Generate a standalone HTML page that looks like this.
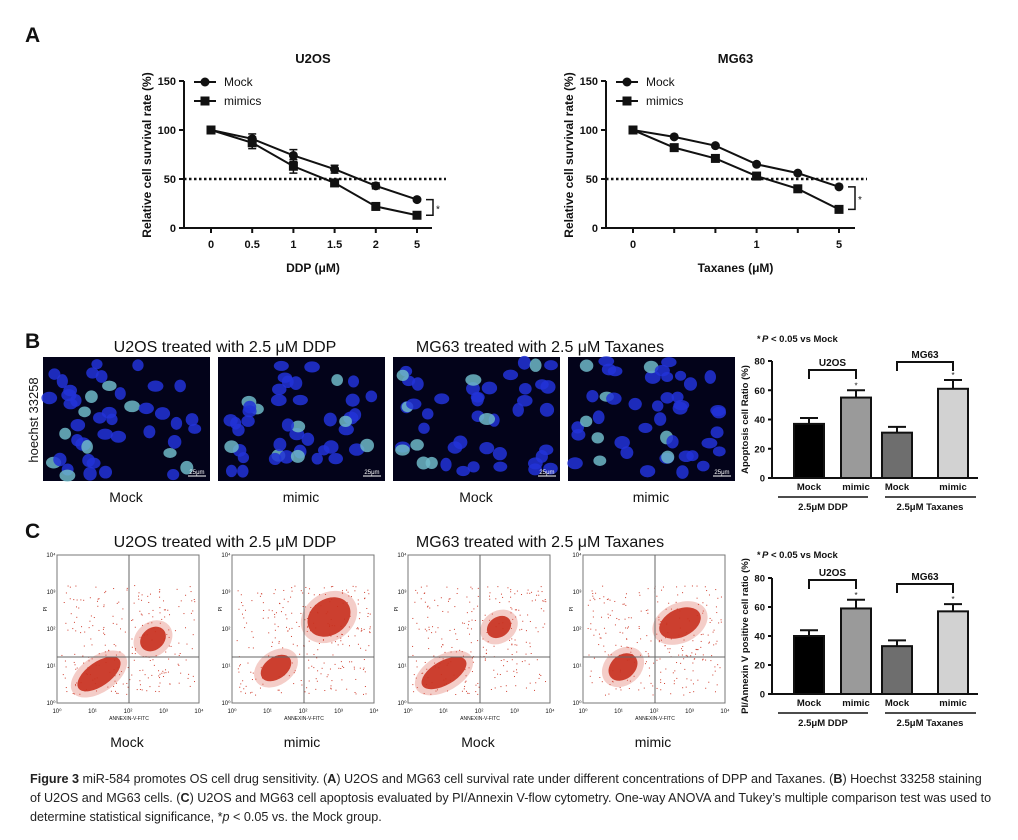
<!DOCTYPE html>
<html><head><meta charset="utf-8"><style>
body{margin:0;background:#fff;}
svg{display:block;font-family:"Liberation Sans",Arial,sans-serif;}
.cap{position:absolute;left:30px;top:770px;width:965px;font-family:"Liberation Sans",Arial,sans-serif;font-size:12.6px;line-height:19px;color:#222;}
</style></head><body>
<svg id="fig" width="1018" height="840" viewBox="0 0 1018 840"></svg>
<div class="cap"><b>Figure 3</b> miR-584 promotes OS cell drug sensitivity. (<b>A</b>) U2OS and MG63 cell survival rate under different concentrations of DPP and Taxanes. (<b>B</b>) Hoechst 33258 staining of U2OS and MG63 cells. (<b>C</b>) U2OS and MG63 cell apoptosis evaluated by PI/Annexin V-flow cytometry. One-way ANOVA and Tukey’s multiple comparison test was used to determine statistical significance, *<i>p</i> &lt; 0.05 vs. the Mock group.</div>
<script>
// ---- Panel A data ----
const u2osCats = ["0","0.5","1","1.5","2","5"];
const u2osMock = [100,91,74,60,43,29];
const u2osMockErr = [2,5,6,4,3,1];
const u2osMimic = [100,87,63,46,22,13];
const u2osMimicErr = [2,6,7,3,2,2];
const mg63Cats = ["0","","","1","","5"];
const mg63Mock = [100,93,84,65,56,42];
const mg63Mimic = [100,82,71,53,40,19];
const aTicks = [0,50,100,150];
// ---- Panel B/C data ----
const barCats = ["Mock","mimic","Mock","mimic"];
const apoptosis = [37,55,31,61];
const apoptosisErr = [4,5,4,6];
const annexin = [40,59,33,57];
const annexinErr = [4,6,4,5];
const barTicks = [0,20,40,60,80];

const NS="http://www.w3.org/2000/svg";
const svg=document.getElementById('fig');
function el(tag,attrs,parent,text){const e=document.createElementNS(NS,tag);for(const k in attrs)e.setAttribute(k,attrs[k]);if(text!==undefined)e.textContent=text;(parent||svg).appendChild(e);return e;}
function txt(x,y,s,size,opt,parent){opt=opt||{};const a={x:x,y:y,'font-size':size,fill:opt.fill||'#111','text-anchor':opt.anchor||'middle'};if(opt.bold)a['font-weight']='bold';if(opt.rot)a.transform='rotate(-90 '+x+' '+y+')';const t=el('text',a,parent,s);return t;}

[['A',25,42],['B',25,348],['C',25,538]].forEach(p=>{txt(p[1],p[2],p[0],21,{bold:true,anchor:'start',name:'panel-letter-'+p[0].toLowerCase()});});

function lineChart(cfg){
  const g=el('g',{});
  const y0=228,y1=81,ax=cfg.ax;
  const ys=v=>y0-(v/150)*(y0-y1);
  const xs=i=>cfg.x0+i*cfg.dx;
  el('line',{x1:ax,y1:y1,x2:ax,y2:y0,stroke:'#111','stroke-width':2},g);
  el('line',{x1:ax,y1:y0,x2:cfg.axEnd,y2:y0,stroke:'#111','stroke-width':2},g);
  aTicks.forEach(t=>{el('line',{x1:ax-5,y1:ys(t),x2:ax,y2:ys(t),stroke:'#111','stroke-width':2},g);txt(ax-8,ys(t)+4,String(t),11,{anchor:'end',bold:true,name:'y-tick-label'},g);});
  cfg.cats.forEach((c,i)=>{el('line',{x1:xs(i),y1:y0,x2:xs(i),y2:y0+5,stroke:'#111','stroke-width':2},g);if(c)txt(xs(i),y0+20,c,11,{bold:true,name:'x-tick-label'},g);});
  el('line',{x1:ax,y1:ys(50),x2:cfg.dotEnd,y2:ys(50),stroke:'#111','stroke-width':2.5,'stroke-dasharray':'2.5 2.5'},g);
  function series(vals,errs,shape,nm){
    const sg=el('g',{},g);
    el('polyline',{points:vals.map((v,i)=>xs(i)+','+ys(v)).join(' '),fill:'none',stroke:'#111','stroke-width':2},sg);
    vals.forEach((v,i)=>{
      if(errs){const e=errs[i];el('line',{x1:xs(i),y1:ys(v+e),x2:xs(i),y2:ys(v-e),stroke:'#111','stroke-width':1.5},sg);el('line',{x1:xs(i)-4,y1:ys(v+e),x2:xs(i)+4,y2:ys(v+e),stroke:'#111','stroke-width':1.5},sg);el('line',{x1:xs(i)-4,y1:ys(v-e),x2:xs(i)+4,y2:ys(v-e),stroke:'#111','stroke-width':1.5},sg);}
      let m;if(shape==='c')m=el('circle',{cx:xs(i),cy:ys(v),r:4.5,fill:'#111'},sg);else m=el('rect',{x:xs(i)-4.5,y:ys(v)-4.5,width:9,height:9,fill:'#111'},sg);
      
    });
  }
  series(cfg.mock,cfg.mockErr,'c','mock-series');
  series(cfg.mimic,cfg.mimicErr,'s','mimics-series');
  const bx=xs(5)+9,ya=ys(cfg.mock[5]),yb=ys(cfg.mimic[5]);
  el('polyline',{points:bx+','+ya+' '+(bx+7)+','+ya+' '+(bx+7)+','+yb+' '+bx+','+yb,fill:'none',stroke:'#111','stroke-width':1.5},g);
  txt(bx+12,(ya+yb)/2+5,'*',10,{name:'significance-star'},g);
  const lx=ax+10;
  el('line',{x1:lx,y1:82,x2:lx+22,y2:82,stroke:'#111','stroke-width':2},g);el('circle',{cx:lx+11,cy:82,r:4.5,fill:'#111'},g);
  txt(lx+30,86,'Mock',12,{anchor:'start',name:'legend-mock'},g);
  el('line',{x1:lx,y1:101,x2:lx+22,y2:101,stroke:'#111','stroke-width':2},g);el('rect',{x:lx+6.5,y:96.5,width:9,height:9,fill:'#111'},g);
  txt(lx+30,105,'mimics',12,{anchor:'start',name:'legend-mimics'},g);
  txt((ax+cfg.axEnd)/2+5,63,cfg.title,13,{bold:true,name:'chart-title'},g);
  txt((ax+cfg.axEnd)/2+5,272,cfg.xlabel,12,{bold:true,name:'x-axis-title'},g);
  txt(ax-33,155,'Relative cell survival rate (%)',12,{bold:true,rot:true,name:'y-axis-title'},g);
}
lineChart({name:'u2os-survival-chart',ax:184,axEnd:432,dotEnd:446,x0:211,dx:41.2,cats:u2osCats,mock:u2osMock,mockErr:u2osMockErr,mimic:u2osMimic,mimicErr:u2osMimicErr,title:'U2OS',xlabel:'DDP (μM)'});
lineChart({name:'mg63-survival-chart',ax:606,axEnd:855,dotEnd:867,x0:633,dx:41.2,cats:mg63Cats,mock:mg63Mock,mockErr:null,mimic:mg63Mimic,mimicErr:null,title:'MG63',xlabel:'Taxanes (μM)'});

// ---- micrographs ----
txt(225,352,'U2OS treated with 2.5 μM DDP',16,{name:'u2os-micrograph-title'});
txt(540,352,'MG63 treated with 2.5 μM Taxanes',16,{name:'mg63-micrograph-title'});
txt(38,420,'hoechst 33258',13,{rot:true,name:'stain-label'});
const microX=[43,218,393,568];
const microLbl=['Mock','mimic','Mock','mimic'];
microX.forEach((mx,k)=>{
  const g=el('g',{});
  el('rect',{x:mx,y:357,width:167,height:124,fill:'#03031a'},g);
  let s=17+k*31;const r=()=>{s=(s*9301+49297)%233280;return s/233280;};
  for(let i=0;i<46;i++){const cx=mx+6+r()*155,cy=361+r()*116;const br=r()<0.22;
    el('ellipse',{cx:cx,cy:cy,rx:5.5+r()*2.5,ry:5+r()*2,fill:br?'#6fb8c8':'#2233d8',opacity:0.85},g);}
  el('line',{x1:mx+145,y1:476,x2:mx+163,y2:476,stroke:'#fff','stroke-width':1},g);
  txt(mx+154,474,'25μm',6,{fill:'#fff',name:'scale-bar'},g);
  txt(mx+83,502,microLbl[k],14,{name:'micrograph-label'},g);
});

// ---- bar charts ----
function barChart(cfg){
  const g=el('g',{});
  const ax=772,y0=cfg.y0,top=cfg.top;const ys=v=>y0-(v/80)*(y0-top);
  const bx=[809,856,897,953],fills=['#000','#9a9a9a','#6e6e6e','#d2d2d2'];
  txt(757,cfg.y0-136,'*',9,{anchor:'start',bold:true,name:'note-star'},g);
  const nt=txt(762,cfg.y0-136,'',9.5,{anchor:'start',bold:true,name:'significance-note'},g);
  el('tspan',{'font-style':'italic'},nt,'P');el('tspan',{},nt,' < 0.05 vs Mock');
  el('line',{x1:ax,y1:top,x2:ax,y2:y0,stroke:'#111','stroke-width':2},g);
  el('line',{x1:ax,y1:y0,x2:978,y2:y0,stroke:'#111','stroke-width':2},g);
  barTicks.forEach(t=>{el('line',{x1:ax-4,y1:ys(t),x2:ax,y2:ys(t),stroke:'#111','stroke-width':2},g);txt(ax-7,ys(t)+3.5,String(t),9.5,{anchor:'end',bold:true,name:'y-tick-label'},g);});
  cfg.vals.forEach((v,i)=>{
    const e=cfg.errs[i];
    el('line',{x1:bx[i],y1:ys(v),x2:bx[i],y2:ys(v+e),stroke:'#111','stroke-width':2},g);
    el('line',{x1:bx[i]-9,y1:ys(v+e),x2:bx[i]+9,y2:ys(v+e),stroke:'#111','stroke-width':2},g);
    const b=el('rect',{x:bx[i]-15,y:ys(v),width:30,height:y0-ys(v),fill:fills[i],stroke:'#111','stroke-width':2},g);
    
    txt(bx[i],y0+12,barCats[i],9.5,{bold:true,name:'x-tick-label'},g);
    if(i%2===1)txt(bx[i],ys(v+e)-2,'*',8,{name:'significance-star'},g);
  });
  [[809,856,cfg.b1,'U2OS'],[897,953,cfg.b2,'MG63']].forEach(b=>{
    el('polyline',{points:b[0]+','+(b[2]+9)+' '+b[0]+','+b[2]+' '+b[1]+','+b[2]+' '+b[1]+','+(b[2]+9),fill:'none',stroke:'#111','stroke-width':2},g);
    txt((b[0]+b[1])/2,b[2]-4,b[3],10,{bold:true,name:'group-label'},g);
  });
  el('line',{x1:778,y1:y0+19,x2:868,y2:y0+19,stroke:'#111','stroke-width':1.5},g);
  el('line',{x1:885,y1:y0+19,x2:976,y2:y0+19,stroke:'#111','stroke-width':1.5},g);
  txt(823,y0+32,'2.5μM DDP',9.5,{bold:true,name:'treatment-label'},g);
  txt(930,y0+32,'2.5μM Taxanes',9.5,{bold:true,name:'treatment-label'},g);
  txt(748,(top+y0)/2,cfg.ylabel,9.5,{bold:true,rot:true,name:'y-axis-title'},g);
}
barChart({name:'apoptosis-bar-chart',y0:478,top:361,vals:apoptosis,errs:apoptosisErr,b1:370,b2:362,ylabel:'Apoptosis cell Ratio (%)'});
barChart({name:'annexin-bar-chart',y0:694,top:578,vals:annexin,errs:annexinErr,b1:580,b2:584,ylabel:'PI/Annexin V positive cell ratio (%)'});

// ---- flow cytometry plots ----
txt(225,547,'U2OS treated with 2.5 μM DDP',16,{name:'u2os-flow-title'});
txt(540,547,'MG63 treated with 2.5 μM Taxanes',16,{name:'mg63-flow-title'});
const flowX=[57,232,408,583];
const flowLbl=['Mock','mimic','Mock','mimic'];
// cluster: [cx, cy (relative to plot), rx, ry, rotation]
const clusters=[[[42,119,25,12,-35],[96,84,14,11,-40]],[[44,113,17,11,-35],[97,62,23,18,-35]],[[36,118,25,12,-30],[91,72,13,10,-35]],[[40,112,16,12,-40],[97,68,22,14,-25]]];
flowX.forEach((fx,k)=>{
  const g=el('g',{});
  const w=142,h=148,t=555,cx=fx+72,cy=t+102;
  el('rect',{x:fx,y:t,width:w,height:h,fill:'#fff',stroke:'#777','stroke-width':1},g);
  let s=5+k*77;const r=()=>{s=(s*9301+49297)%233280;return s/233280;};
  for(let i=0;i<260;i++){el('rect',{x:fx+4+r()*134,y:t+30+r()*110,width:1,height:1,fill:'#d04030'},g);}
  clusters[k].forEach(c=>{
    const X=fx+c[0],Y=t+c[1],tr='rotate('+c[4]+' '+X+' '+Y+')';
    el('ellipse',{cx:X,cy:Y,rx:c[2]+7,ry:c[3]+6,fill:'#e07060',opacity:0.35,transform:tr},g);
    el('ellipse',{cx:X,cy:Y,rx:c[2],ry:c[3],fill:'#c8301e',opacity:0.9,transform:tr},g);
  });
  el('line',{x1:cx,y1:t,x2:cx,y2:t+h,stroke:'#666','stroke-width':1},g);
  el('line',{x1:fx,y1:cy,x2:fx+w,y2:cy,stroke:'#666','stroke-width':1},g);
  ['10⁰','10¹','10²','10³','10⁴'].forEach((l,i)=>{txt(fx+i*35.5,t+h+10,l,6,{name:'x-tick-label'},g);txt(fx-6,t+h-i*37+2,l,6,{name:'y-tick-label'},g);});
  txt(cx,t+h+17,'ANNEXIN-V-FITC',5,{name:'x-axis-title'},g);
  txt(fx-10,t+h/2-20,'PI',5,{rot:true,name:'y-axis-title'},g);
  txt(fx+70,t+192,flowLbl[k],14,{name:'flow-plot-label'},g);
});
</script>
</body></html>
